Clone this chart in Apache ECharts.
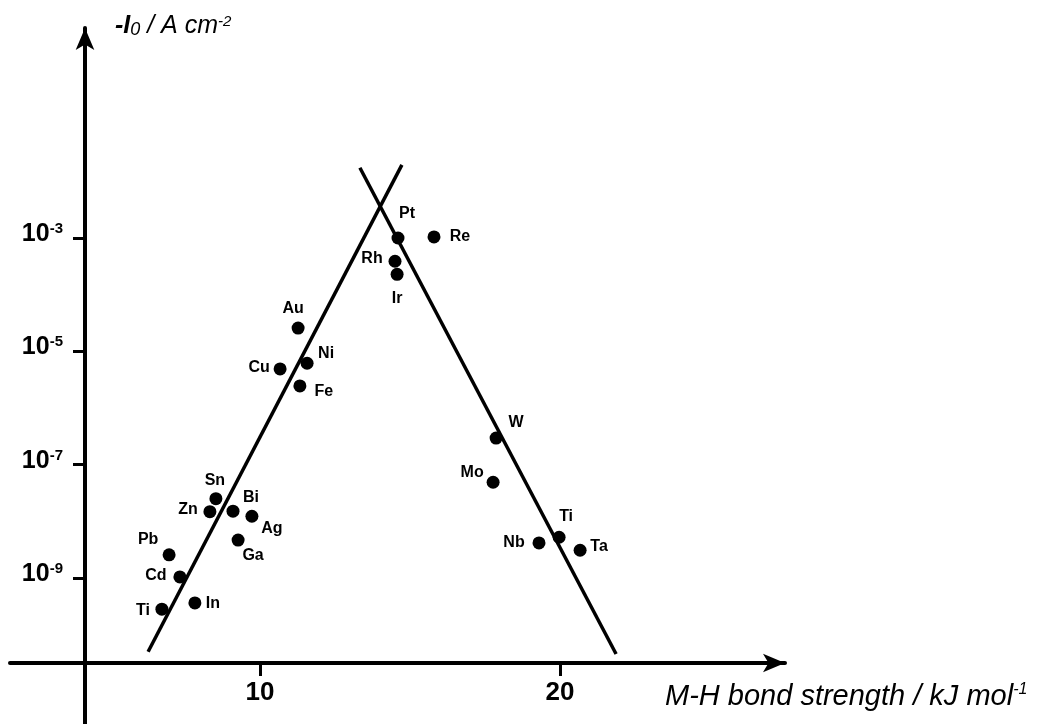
<!DOCTYPE html>
<html>
<head>
<meta charset="utf-8">
<script src="https://cdn.jsdelivr.net/npm/echarts@6/dist/echarts.min.js"></script>
<style>
html,body{margin:0;padding:0;background:#fff;}
#chart{width:1045px;height:724px;}
</style>
</head>
<body>
<div id="chart"></div>
<script>
// ---- data ----
const elements     = ['Ti','In','Cd','Pb','Zn','Sn','Bi','Ag','Ga','Cu','Ni','Fe','Au','Pt','Re','Rh','Ir','W','Mo','Ti','Nb','Ta'];
const bondStrength = [6.73, 7.83, 7.33, 6.97, 8.33, 8.53, 9.10, 9.73, 9.27, 10.67, 11.57, 11.33, 11.27, 14.60, 15.80, 14.50, 14.57, 17.87, 17.77, 19.97, 19.30, 20.67];
const logI0        = [-9.55, -9.44, -8.98, -8.59, -7.83, -7.60, -7.82, -7.91, -8.33, -5.31, -5.21, -5.61, -4.59, -3.00, -2.98, -3.41, -3.64, -6.53, -7.31, -8.28, -8.38, -8.51];
// volcano branch lines (end points)
const leftBranchX  = [6.27, 14.73];
const leftBranchY  = [-10.30, -1.71];
const rightBranchX = [13.33, 21.87];
const rightBranchY = [-1.76, -10.34];
// tick labels
const xTicks = [10, 20];
const yTicks = [-9, -7, -5, -3];

// ---- label placement (style only, px offsets from dot centre) ----
const labelOffsets = [[-19,1],[18,1],[-24,-1],[-21,-15],[-22,-2],[-1,-18],[18,-14],[20,12],[15,16],
                      [-21,-1],[19,-10],[24,6],[-5,-20],[9,-24],[26,0],[-23,-3],[0,24],
                      [20,-15],[-21,-10],[7,-21],[-25,0],[19,-4]];

const FONT = '"Liberation Sans", Arial, Helvetica, sans-serif';

const pointData = elements.map((n, i) => ({
  name: n,
  value: [bondStrength[i], logI0[i]],
  label: { offset: labelOffsets[i] }
}));

const chart = echarts.init(document.getElementById('chart'), null, {renderer: 'canvas'});
chart.setOption({
  animation: false,
  backgroundColor: '#fff',
  grid: { left: 10, right: 260, top: 28, bottom: 0, containLabel: false },
  xAxis: {
    type: 'value',
    min: 50 / 30,
    max: 825 / 30,
    offset: -61,
    axisLine: { onZero: false, symbol: ['none', 'arrow'], symbolSize: [14, 22],
                lineStyle: { color: '#000', width: 4 } },
    axisTick: { show: true, customValues: xTicks, inside: false, length: 13,
                lineStyle: { color: '#000', width: 3 } },
    axisLabel: { customValues: xTicks, margin: 17, color: '#000',
                 fontFamily: FONT, fontWeight: 'bold', fontSize: 26 },
    splitLine: { show: false },
    name: '{t|M-H bond strength / kJ mol}{s|-1}',
    nameLocation: 'end',
    nameGap: -120,
    nameTextStyle: {
      align: 'left', verticalAlign: 'top', padding: [19, 0, 0, 0],
      rich: {
        t: { fontFamily: FONT, fontStyle: 'italic', fontSize: 29, color: '#000', verticalAlign: 'bottom' },
        s: { fontFamily: FONT, fontStyle: 'italic', fontSize: 16, color: '#000', verticalAlign: 'top' }
      }
    }
  },
  yAxis: {
    type: 'value',
    min: -11.576,
    max: 0.706,
    offset: -75,
    axisLine: { onZero: false, symbol: ['none', 'arrow'], symbolSize: [14, 22],
                lineStyle: { color: '#000', width: 4 } },
    axisTick: { show: true, customValues: yTicks, inside: false, length: 12,
                lineStyle: { color: '#000', width: 3 } },
    axisLabel: {
      customValues: yTicks, margin: 22, padding: [0, 0, 8, 0],
      formatter: v => '{b|10}{s|' + v + '}',
      rich: {
        b: { fontFamily: FONT, fontWeight: 'bold', fontSize: 25, color: '#000', verticalAlign: 'bottom' },
        s: { fontFamily: FONT, fontWeight: 'bold', fontSize: 15, color: '#000', verticalAlign: 'top' }
      }
    },
    splitLine: { show: false },
    name: '{m|-I}{sub|0}{r| / A cm}{sup|-2}',
    nameLocation: 'end',
    nameGap: -11,
    nameTextStyle: {
      align: 'left', verticalAlign: 'bottom', padding: [0, 0, 0, 30],
      rich: {
        m: { fontFamily: FONT, fontStyle: 'italic', fontWeight: 'bold', fontSize: 25, color: '#000', verticalAlign: 'bottom' },
        sub: { fontFamily: FONT, fontStyle: 'italic', fontSize: 18, color: '#000', verticalAlign: 'bottom' },
        r: { fontFamily: FONT, fontStyle: 'italic', fontSize: 25, color: '#000', verticalAlign: 'bottom' },
        sup: { fontFamily: FONT, fontStyle: 'italic', fontSize: 15, color: '#000', verticalAlign: 'top' }
      }
    }
  },
  series: [
    {
      type: 'line', name: 'left branch', showSymbol: false, silent: true,
      data: leftBranchX.map((x, i) => [x, leftBranchY[i]]),
      lineStyle: { color: '#000', width: 3.5 }, z: 2
    },
    {
      type: 'line', name: 'right branch', showSymbol: false, silent: true,
      data: rightBranchX.map((x, i) => [x, rightBranchY[i]]),
      lineStyle: { color: '#000', width: 3.5 }, z: 2
    },
    {
      type: 'scatter', name: 'metals', symbol: 'circle', symbolSize: 13,
      itemStyle: { color: '#000', opacity: 1 },
      data: pointData,
      label: {
        show: true, position: 'inside', formatter: p => p.name,
        fontFamily: FONT, fontWeight: 'bold', fontSize: 16, color: '#000', opacity: 1
      },
      z: 3
    }
  ]
});
</script>
</body>
</html>
